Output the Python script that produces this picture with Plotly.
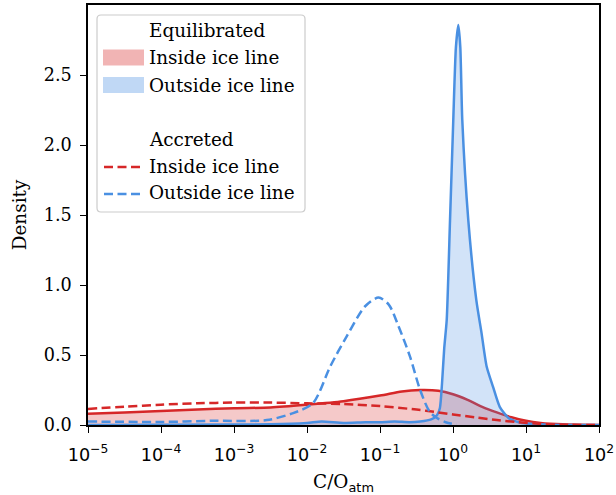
import plotly.graph_objects as go

# log10(C/O_atm) grids and density values for each population
eq_in_logx = [-5, -4.5, -4, -3.5, -3, -2.5, -2, -1.5, -1, -0.7, -0.45, -0.2, 0, 0.2, 0.4, 0.6, 0.8, 1.0, 1.2, 1.5, 2.0]
eq_in_dens = [0.08, 0.09, 0.10, 0.11, 0.12, 0.125, 0.145, 0.17, 0.21, 0.24, 0.25, 0.245, 0.22, 0.18, 0.13, 0.09, 0.055, 0.03, 0.015, 0.005, 0.0]

eq_out_logx = [-5, -3, -2.5, -2, -1.8, -1.5, -1.2, -1.0, -0.8, -0.6, -0.45, -0.3, -0.22, -0.18, -0.15, -0.12, -0.086,
               -0.041, 0.004, 0.04, 0.073, 0.10, 0.127, 0.21, 0.32, 0.39, 0.46, 0.55, 0.64, 0.76, 0.9, 1.0, 1.3, 2.0]
eq_out_dens = [0.0, 0.003, 0.005, 0.015, 0.025, 0.015, 0.02, 0.02, 0.025, 0.02, 0.025, 0.04, 0.07, 0.12, 0.3, 0.55, 0.75,
               1.46, 2.18, 2.7, 2.857, 2.7, 2.18, 1.46, 0.89, 0.66, 0.42, 0.27, 0.13, 0.05, 0.02, 0.01, 0.002, 0.0]

acc_in_logx = [-5, -4.5, -4, -3.5, -3, -2.5, -2, -1.5, -1, -0.5, -0.2, 0, 0.3, 0.6, 0.9, 1.2, 1.5, 2.0]
acc_in_dens = [0.115, 0.13, 0.145, 0.155, 0.16, 0.16, 0.155, 0.15, 0.135, 0.11, 0.09, 0.075, 0.055, 0.035, 0.02, 0.008, 0.002, 0.0]

acc_out_logx = [-5, -4, -3.3, -2.55, -2.19, -1.92, -1.68, -1.46, -1.2, -1.02, -0.88, -0.75, -0.59, -0.45, -0.32, -0.22, -0.1, 0.05]
acc_out_dens = [0.025, 0.022, 0.03, 0.035, 0.085, 0.155, 0.42, 0.63, 0.85, 0.91, 0.86, 0.71, 0.49, 0.25, 0.095, 0.05, 0.02, 0.003]

x_tick_exps = [-5, -4, -3, -2, -1, 0, 1, 2]
y_tick_vals = [0.0, 0.5, 1.0, 1.5, 2.0, 2.5]

RED = "#d62728"
BLUE = "#4a90e2"
RED_FILL = "rgba(214,39,40,0.25)"
BLUE_FILL = "rgba(74,144,226,0.25)"
RED_PATCH = "rgba(214,39,40,0.35)"
BLUE_PATCH = "rgba(74,144,226,0.35)"
DASH = "9px,4.5px"
LW = 2.5

SERIF = "DejaVu Serif"
SANS = "DejaVu Sans"
TEXT_SIZE = 18.4
TICK_SIZE = 17.6


def to_x(logs):
    return [10 ** v for v in logs]


fig = go.Figure()
fig.add_trace(go.Scatter(x=to_x(eq_in_logx), y=eq_in_dens, mode="lines", fill="tozeroy",
                         fillcolor=RED_FILL, line=dict(color=RED, width=LW, shape="spline", smoothing=0.8),
                         showlegend=False))
fig.add_trace(go.Scatter(x=to_x(eq_out_logx), y=eq_out_dens, mode="lines", fill="tozeroy",
                         fillcolor=BLUE_FILL, line=dict(color=BLUE, width=LW, shape="spline", smoothing=0.6),
                         showlegend=False))
fig.add_trace(go.Scatter(x=to_x(acc_in_logx), y=acc_in_dens, mode="lines",
                         line=dict(color=RED, width=LW, dash=DASH, shape="spline", smoothing=0.8),
                         showlegend=False))
fig.add_trace(go.Scatter(x=to_x(acc_out_logx), y=acc_out_dens, mode="lines",
                         line=dict(color=BLUE, width=LW, dash=DASH, shape="spline", smoothing=0.8),
                         showlegend=False))

W, H = 616, 495
L, R, T, B = 88, 17, 5, 70
PW, PH = W - L - R, H - T - B


def px(x):
    return (x - L) / PW


def py(y):
    return (H - B - y) / PH


shapes = []
annotations = []

# legend frame with rounded corners
x0, x1, y0, y1, r = px(97), px(305), py(15), py(212), 4
rx, ry = r / PW, r / PH
shapes.append(dict(
    type="path", xref="paper", yref="paper",
    path=(f"M{x0 + rx},{y0} L{x1 - rx},{y0} Q{x1},{y0} {x1},{y0 - ry} "
          f"L{x1},{y1 + ry} Q{x1},{y1} {x1 - rx},{y1} L{x0 + rx},{y1} "
          f"Q{x0},{y1} {x0},{y1 + ry} L{x0},{y0 - ry} Q{x0},{y0} {x0 + rx},{y0} Z"),
    fillcolor="rgba(255,255,255,0.85)", line=dict(color="#cccccc", width=1.2), layer="above"))

# legend swatches
shapes.append(dict(type="rect", xref="paper", yref="paper", x0=px(103), x1=px(144), y0=py(49.5), y1=py(65.5),
                   fillcolor=RED_PATCH, line=dict(width=0), layer="above"))
shapes.append(dict(type="rect", xref="paper", yref="paper", x0=px(103), x1=px(144), y0=py(77), y1=py(93),
                   fillcolor=BLUE_PATCH, line=dict(width=0), layer="above"))
shapes.append(dict(type="line", xref="paper", yref="paper", x0=px(104), x1=px(142), y0=py(167), y1=py(167),
                   line=dict(color=RED, width=LW, dash=DASH), layer="above"))
shapes.append(dict(type="line", xref="paper", yref="paper", x0=px(104), x1=px(142), y0=py(194), y1=py(194),
                   line=dict(color=BLUE, width=LW, dash=DASH), layer="above"))

legend_rows = [("Equilibrated", 30), ("Inside ice line", 57), ("Outside ice line", 85),
               ("Accreted", 139), ("Inside ice line", 166), ("Outside ice line", 193)]
for text, yy in legend_rows:
    annotations.append(dict(text=text, xref="paper", yref="paper", x=px(147), y=py(yy),
                            xanchor="left", yanchor="middle", showarrow=False,
                            font=dict(family=SERIF, size=TEXT_SIZE, color="black")))

fig.update_layout(
    width=W, height=H,
    margin=dict(l=L, r=R, t=T, b=B),
    paper_bgcolor="white", plot_bgcolor="white",
    shapes=shapes, annotations=annotations,
    showlegend=False,
    xaxis=dict(
        type="log", range=[-5, 2], automargin=False,
        tickvals=[10 ** e for e in x_tick_exps],
        ticktext=[f"10<sup>{str(e).replace('-', '−')}</sup>" for e in x_tick_exps],
        tickfont=dict(family=SANS, size=TICK_SIZE, color="black"),
        ticks="outside", ticklen=6, tickwidth=1.3, tickcolor="black",
        ticklabelstandoff=7,
        showline=True, linecolor="black", linewidth=1.5, mirror=True,
        showgrid=False, zeroline=False,
        title=dict(text="C/O<sub><span style='font-family:DejaVu Sans'>atm</span></sub>",
                   font=dict(family=SERIF, size=TEXT_SIZE, color="black"), standoff=16),
    ),
    yaxis=dict(
        range=[0, 3.0], automargin=False,
        tickvals=y_tick_vals,
        ticktext=[f"{v:.1f}" for v in y_tick_vals],
        tickfont=dict(family=SERIF, size=TICK_SIZE, color="black"),
        ticks="outside", ticklen=6, tickwidth=1.3, tickcolor="black",
        ticklabelstandoff=5,
        showline=True, linecolor="black", linewidth=1.5, mirror=True,
        showgrid=False, zeroline=False,
        title=dict(text="Density", font=dict(family=SERIF, size=TEXT_SIZE, color="black"), standoff=12),
    ),
)

fig.write_html("out.html")
